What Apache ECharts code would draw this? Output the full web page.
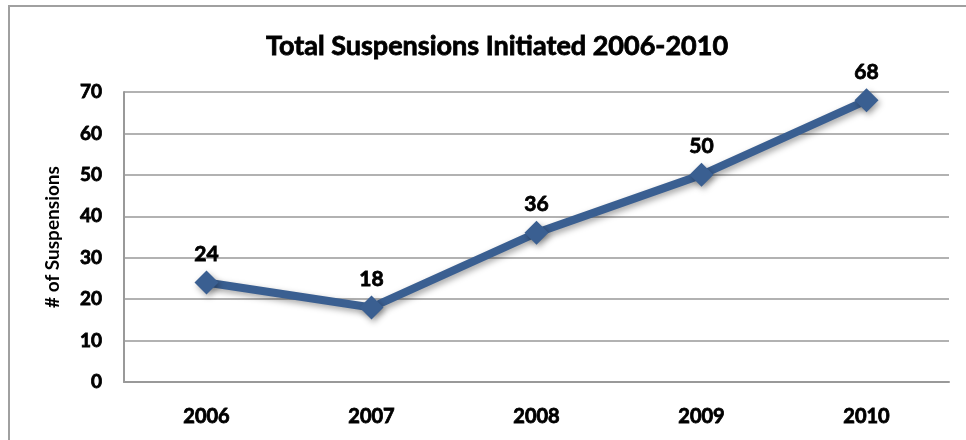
<!DOCTYPE html>
<html>
<head>
<meta charset="utf-8">
<script src="https://cdn.jsdelivr.net/npm/echarts@6/dist/echarts.min.js"></script>
<style>
  html, body { margin: 0; padding: 0; background: #fff; }
  #chart { width: 966px; height: 440px; }
</style>
</head>
<body>
<div id="chart"></div>
<script>
const years = ['2006', '2007', '2008', '2009', '2010'];
const suspensions = [24, 18, 36, 50, 68];
const yTicks = { min: 0, max: 70, interval: 10 };

const font = 'Lato, "Open Sans", sans-serif';
// a thin black outline thickens the bold text toward the reference weight
const heavy = { textBorderColor: '#000', textBorderWidth: 0.8 };
const chart = echarts.init(document.getElementById('chart'));
chart.setOption({
  backgroundColor: '#fff',
  title: {
    text: 'Total Suspensions Initiated 2006-2010',
    left: 492,
    top: 28,
    textAlign: 'center',
    textStyle: Object.assign({ fontFamily: font, fontWeight: 'bold', fontSize: 27, color: '#000' }, heavy)
  },
  graphic: [{
    type: 'rect',
    shape: { x: 9, y: 6, width: 1000, height: 500 },
    style: { fill: 'none', stroke: '#a0a0a0', lineWidth: 2 },
    z: -1
  }],
  grid: { left: 124, right: 17, top: 92, bottom: 58 },
  xAxis: {
    type: 'category',
    data: years,
    axisLine: { lineStyle: { color: '#999', width: 2 } },
    axisTick: { show: false },
    axisLabel: Object.assign({ margin: 25, fontFamily: font, fontWeight: 'bold', fontSize: 20, color: '#000' }, heavy)
  },
  yAxis: {
    type: 'value',
    min: yTicks.min,
    max: yTicks.max,
    interval: yTicks.interval,
    name: '# of Suspensions',
    nameLocation: 'middle',
    nameGap: 62,
    nameTextStyle: { fontFamily: font, fontWeight: 'bold', fontSize: 19, color: '#000' },
    axisLine: { show: true, lineStyle: { color: '#999', width: 2 } },
    axisTick: { show: false },
    splitLine: { lineStyle: { color: '#999', width: 1.5 } },
    axisLabel: Object.assign({ margin: 22, fontFamily: font, fontWeight: 'bold', fontSize: 19, color: '#000' }, heavy)
  },
  series: [{
    type: 'line',
    data: suspensions,
    symbol: 'diamond',
    symbolSize: 24,
    lineStyle: {
      color: '#3a5f91', width: 8,
      shadowColor: 'rgba(0,0,0,0.35)', shadowBlur: 6, shadowOffsetX: 2, shadowOffsetY: 3
    },
    itemStyle: {
      color: '#3a5f91',
      shadowColor: 'rgba(0,0,0,0.35)', shadowBlur: 6, shadowOffsetX: 2, shadowOffsetY: 3
    },
    label: Object.assign({
      show: true,
      position: 'top',
      distance: 6,
      fontFamily: font, fontWeight: 'bold', fontSize: 21, color: '#000'
    }, heavy),
    animation: false
  }]
});
</script>
</body>
</html>
